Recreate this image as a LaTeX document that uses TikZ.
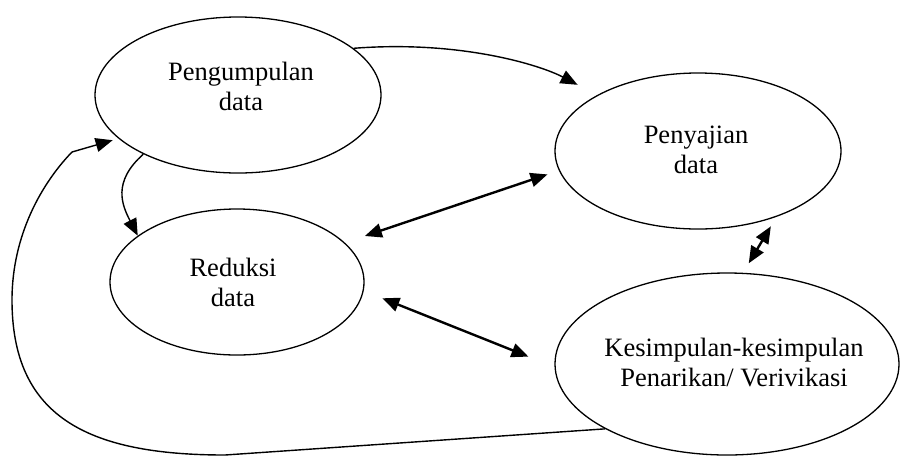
\documentclass[tikz,border=0pt]{standalone}
\usepackage{fontspec}
\setmainfont{Liberation Serif}
\usetikzlibrary{arrows.meta,shapes.geometric}

\begin{document}
\begin{tikzpicture}[x=1pt, y=-1pt, >={Triangle[length=17pt,width=14pt]},
  blob/.style={draw, ellipse, line width=1.3pt, inner sep=0pt},
  words/.style={align=center, font=\fontsize{26.5}{30}\selectfont},
  flow/.style={->, line width=1.4pt},
  both/.style={<->, line width=2.4pt}]
  \useasboundingbox (0,0) rectangle (901,456);
  \node[blob, minimum width=286pt, minimum height=156pt] (peng) at (238,95) {};
  \node[blob, minimum width=286pt, minimum height=156pt] (peny) at (698,151) {};
  \node[blob, minimum width=254pt, minimum height=146pt] (red) at (237,282) {};
  \node[blob, minimum width=344pt, minimum height=182pt] (kes) at (727,364) {};
  \node[words] (peng-t) at (241,86) {Pengumpulan\\data};
  \node[words] (peny-t) at (696,150) {Penyajian\\data};
  \node[words] (red-t) at (233,282) {Reduksi\\data};
  \node[words] (kes-t) at (734,362) {Kesimpulan-kesimpulan\\Penarikan/ Verivikasi};
  \draw[flow, shorten >=22pt] (peng.22) .. controls (460,40) and (540,65) .. (peny.151);
  \draw[flow] (peng.212) .. controls (112,182) and (122,205) .. (red.155);
  \draw[flow, shorten >=6pt] (kes.208) -- (225,455) .. controls (85,455) and (12,415) .. (12,300)
    .. controls (12,235) and (42,183) .. (72,152) -- (peng.200);
  \draw[both, shorten <=21pt, shorten >=12pt] (red.20) -- (peny.188);
  \draw[both, shorten <=20pt, shorten >=28pt] (red.-4) -- (kes.181);
  \draw[both, shorten <=11pt, shorten >=11pt] (peny.-40) -- (kes.80);
\end{tikzpicture}
\end{document}
